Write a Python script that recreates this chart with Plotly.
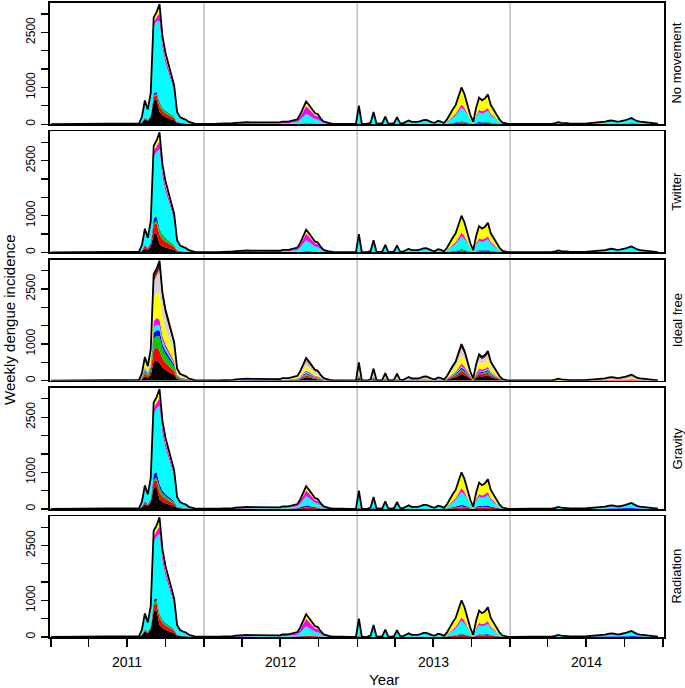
import pandas as pd
import plotly.graph_objects as go

# ---------------- data ----------------
# weekly total dengue incidence (same observed total in every panel), weeks from 2011-01-01
total_2011 = [0, 0, 0, 0, 0, 0, 0, 0, 0, 0,
              0, 0, 0, 0, 0, 0, 0, 0, 0, 0,
              0, 0, 0, 0, 0, 0, 0, 0, 2, 5,
              20, 200, 645, 400, 850, 2900, 3050, 3270, 2400, 1950,
              1650, 1380, 1050, 330, 190, 150, 120, 60, 30, 15,
              8, 5]
total_2012 = [5, 5, 5, 5, 8, 10, 10, 12, 15, 20, 25,
              35, 45, 50, 55, 55, 50, 50, 45,
              40, 55, 50, 45, 60, 50, 55, 45, 70, 60,
              70, 90, 100, 130, 260, 420, 620, 520, 400, 300, 270, 150, 70,
              40, 25, 15, 10, 8, 5, 5, 5, 5, 5]
total_2013 = [5, 500, 10, 5, 10, 40, 330, 20, 10, 25,
              205, 20, 10, 25, 190, 30, 20, 60, 100, 60,
              50, 60, 80, 110, 115, 80, 50, 40, 90, 70,
              30, 120, 270, 400, 520, 750, 1000, 820, 550, 250,
              60, 450, 720, 650, 700, 810, 520, 380, 270, 120,
              40, 15]
total_2014 = [5, 5, 5, 5, 5, 5, 5, 5, 5, 8, 8, 10, 10, 10, 12,
              15, 30, 55, 35, 40, 25, 15,
              10, 10, 12, 15, 15, 20, 20, 25,
              30, 40, 55, 65, 85, 100, 90, 70, 75, 85, 110, 140, 165, 120,
              80, 65, 55, 40, 25, 20, 15, 10]
total = total_2011 + total_2012 + total_2013 + total_2014

# phases (week index boundaries) in which the regional composition was read
phase_bounds = [0, 37, 52, 104, 135, 156, 208]
phase_names = ["2011 rise", "2011 decline", "2012", "2013 early", "2013 epidemic", "2014"]

panel_names = ["No movement", "Twitter", "Ideal free", "Gravity", "Radiation"]

layer_colors = {
    "black": "#000000", "red": "#FF0000", "green": "#00CD00", "blue": "#0000FF",
    "cyan": "#00FFFF", "magenta": "#FF00FF", "yellow": "#FFFF00",
    "gray": "#D3D3D3", "tan": "#D2B48C", "darkred": "#8B1A1A",
}

# share of each source layer in each phase (bottom -> top)
shares_no_movement = {
    "black":   [0.22, 0.10, 0.01, 0.03, 0.01, 0.08],
    "red":     [0.04, 0.05, 0.03, 0.02, 0.04, 0.01],
    "green":   [0.01, 0.03, 0.00, 0.00, 0.01, 0.00],
    "blue":    [0.02, 0.01, 0.01, 0.01, 0.02, 0.04],
    "cyan":    [0.63, 0.67, 0.40, 0.80, 0.37, 0.75],
    "magenta": [0.04, 0.07, 0.35, 0.04, 0.09, 0.04],
    "yellow":  [0.04, 0.07, 0.20, 0.10, 0.46, 0.08],
}
shares_twitter = {
    "black":   [0.17, 0.07, 0.01, 0.03, 0.01, 0.06],
    "red":     [0.09, 0.08, 0.04, 0.03, 0.05, 0.01],
    "green":   [0.02, 0.04, 0.01, 0.00, 0.01, 0.00],
    "blue":    [0.04, 0.01, 0.02, 0.01, 0.02, 0.05],
    "cyan":    [0.58, 0.66, 0.45, 0.80, 0.35, 0.78],
    "magenta": [0.05, 0.07, 0.30, 0.04, 0.10, 0.04],
    "yellow":  [0.05, 0.07, 0.17, 0.09, 0.46, 0.06],
}
shares_ideal_free = {
    "black":   [0.18, 0.15, 0.15, 0.15, 0.18, 0.12],
    "red":     [0.12, 0.10, 0.08, 0.06, 0.09, 0.06],
    "green":   [0.10, 0.12, 0.06, 0.04, 0.04, 0.04],
    "blue":    [0.05, 0.05, 0.05, 0.04, 0.05, 0.04],
    "cyan":    [0.05, 0.04, 0.05, 0.04, 0.04, 0.04],
    "magenta": [0.06, 0.05, 0.06, 0.04, 0.07, 0.04],
    "yellow":  [0.22, 0.22, 0.20, 0.10, 0.25, 0.10],
    "gray":    [0.14, 0.17, 0.12, 0.07, 0.16, 0.10],
    "tan":     [0.02, 0.03, 0.15, 0.40, 0.02, 0.40],
    "darkred": [0.06, 0.07, 0.08, 0.06, 0.10, 0.06],
}
shares_gravity = {
    "black":   [0.20, 0.08, 0.02, 0.03, 0.01, 0.06],
    "red":     [0.06, 0.06, 0.05, 0.03, 0.05, 0.01],
    "green":   [0.02, 0.04, 0.01, 0.00, 0.01, 0.00],
    "blue":    [0.05, 0.03, 0.08, 0.02, 0.05, 0.10],
    "cyan":    [0.57, 0.65, 0.40, 0.80, 0.35, 0.73],
    "magenta": [0.05, 0.07, 0.26, 0.04, 0.10, 0.04],
    "yellow":  [0.05, 0.07, 0.18, 0.08, 0.43, 0.06],
}
shares_radiation = {
    "black":   [0.24, 0.10, 0.02, 0.03, 0.01, 0.06],
    "red":     [0.06, 0.06, 0.03, 0.02, 0.06, 0.01],
    "green":   [0.03, 0.03, 0.00, 0.00, 0.01, 0.00],
    "blue":    [0.02, 0.01, 0.02, 0.01, 0.02, 0.08],
    "cyan":    [0.55, 0.66, 0.40, 0.82, 0.35, 0.77],
    "magenta": [0.05, 0.07, 0.33, 0.04, 0.09, 0.03],
    "yellow":  [0.05, 0.07, 0.20, 0.08, 0.46, 0.05],
}
panel_shares = [shares_no_movement, shares_twitter, shares_ideal_free,
                shares_gravity, shares_radiation]

y_tick_vals = [0, 500, 1000, 1500, 2000, 2500, 3000]
y_tick_text = ["0", "", "1000", "", "", "2500", ""]
year_labels = ["2011", "2012", "2013", "2014"]
year_label_pos = ["2011-07-02", "2012-07-02", "2013-07-02", "2014-07-02"]
year_lines = ["2012-01-01", "2013-01-01", "2014-01-01"]

# ---------------- build ----------------
weeks = pd.date_range("2011-01-01", periods=len(total), freq="7D")
quarter_ticks = pd.date_range("2011-01-01", "2015-01-01", freq="QS")

def phase_of(i):
    for p in range(len(phase_bounds) - 1):
        if phase_bounds[p] <= i < phase_bounds[p + 1]:
            return p
    return len(phase_bounds) - 2

FONT = "Liberation Sans, Arial, sans-serif"
W, H = 685, 688
mt, mb, ml, mr = 1, 51, 50, 21
plot_h = H - mt - mb
plot_w = W - ml - mr
period = 128.7
panel_h = 121.5

fig = go.Figure()
layout = dict(
    width=W, height=H, margin=dict(l=ml, r=mr, t=mt, b=mb),
    paper_bgcolor="white", plot_bgcolor="rgba(0,0,0,0)",
    showlegend=False, font=dict(family=FONT, color="black"),
)
annotations = []
for k, (name, shares) in enumerate(zip(panel_names, panel_shares)):
    s = "" if k == 0 else str(k + 1)
    top_px = k * period
    bot_px = top_px + panel_h
    dom = [max(0.0, 1 - bot_px / plot_h), 1 - top_px / plot_h]
    layer_names = list(shares.keys())
    for ln in layer_names:
        vals = []
        for i, t in enumerate(total):
            p = phase_of(i)
            ssum = sum(shares[n][p] for n in layer_names)
            vals.append(t * shares[ln][p] / ssum)
        fig.add_trace(go.Scatter(
            x=weeks, y=vals, xaxis="x" + s, yaxis="y" + s,
            stackgroup="p" + str(k), mode="lines", line=dict(width=0),
            fillcolor=layer_colors[ln], hoverinfo="skip", name=ln))
    fig.add_trace(go.Scatter(
        x=weeks, y=total, xaxis="x" + s, yaxis="y" + s, mode="lines",
        line=dict(color="black", width=1.8), hoverinfo="skip", name="total"))
    bottom = (k == len(panel_names) - 1)
    layout["xaxis" + s] = dict(
        domain=[0, 1], anchor="y" + s, type="date",
        range=["2010-12-29 12:00", "2015-01-03 12:00"],
        showline=True, linecolor="black", linewidth=1.6, mirror=True,
        showgrid=False, zeroline=False,
        ticks="outside" if bottom else "", ticklen=8, tickwidth=1.3, tickcolor="black",
        tickvals=list(quarter_ticks), showticklabels=False,
    )
    layout["yaxis" + s] = dict(
        domain=dom, anchor="x" + s, range=[0, 3300],
        showline=True, linecolor="black", linewidth=1.6, mirror=True,
        showgrid=False, zeroline=False,
        ticks="outside", ticklen=7, tickwidth=1.2, tickcolor="black",
        tickvals=y_tick_vals, ticktext=y_tick_text, tickangle=-90,
        tickfont=dict(size=12, family=FONT), ticklabelstandoff=2,
    )
    annotations.append(dict(
        text=name, xref="paper", yref="paper", x=(677 - ml) / plot_w,
        y=(dom[0] + dom[1]) / 2, textangle=-90, showarrow=False,
        xanchor="center", yanchor="middle", font=dict(size=13, family=FONT)))

for lab, pos in zip(year_labels, year_label_pos):
    annotations.append(dict(
        text=lab, xref="x5", yref="paper", x=pos, y=-(662 - 637) / plot_h,
        showarrow=False, xanchor="center", yanchor="middle",
        font=dict(size=14, family=FONT)))
annotations.append(dict(
    text="Year", xref="paper", yref="paper", x=(384 - ml) / plot_w, y=-(680 - 637) / plot_h,
    showarrow=False, xanchor="center", yanchor="middle", font=dict(size=15, family=FONT)))
annotations.append(dict(
    text="Weekly dengue incidence", xref="paper", yref="paper", x=(9 - ml) / plot_w, y=0.5,
    textangle=-90, showarrow=False, xanchor="center", yanchor="middle",
    font=dict(size=15, family=FONT)))

shapes = []
for d in year_lines:
    shapes.append(dict(type="line", xref="x5", yref="paper", x0=d, x1=d, y0=0, y1=1,
                       line=dict(color="#BEBEBE", width=1.5), layer="below"))
layout["annotations"] = annotations
layout["shapes"] = shapes
fig.update_layout(**layout)
fig.write_html("out.html", config={"displayModeBar": False, "staticPlot": True},
               post_script="document.body.style.margin='0';document.body.style.overflow='hidden';")
